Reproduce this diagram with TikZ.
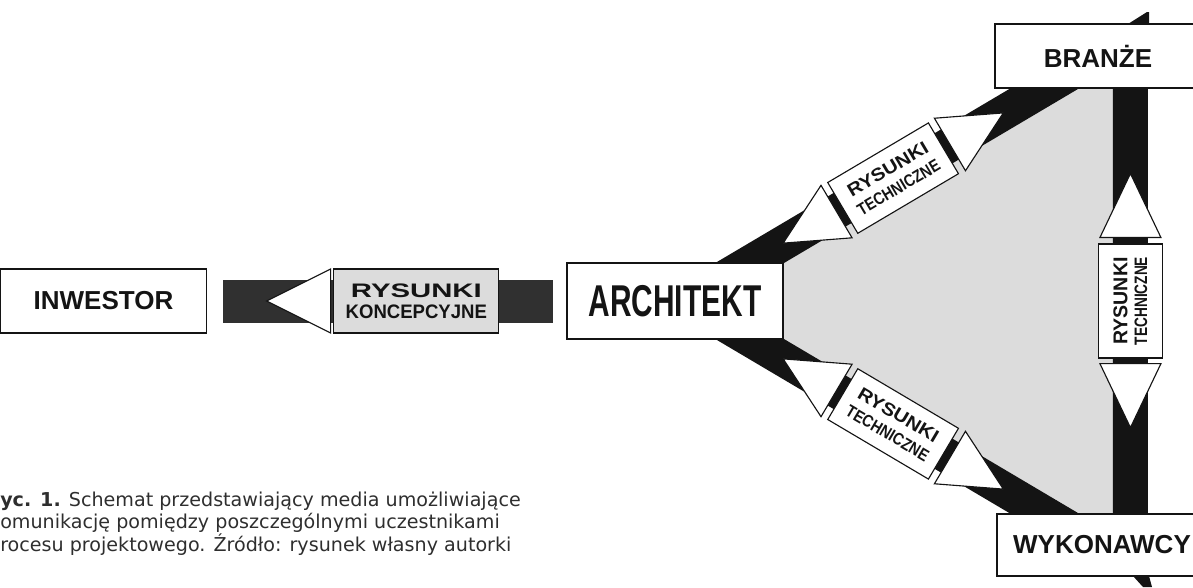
\documentclass[tikz,border=0pt]{standalone}
\usepackage{fontspec}
\setmainfont{Liberation Sans}
\newfontfamily\capfont{DejaVu Sans}
\usepackage{graphicx}
\usetikzlibrary{calc,shapes.geometric}

\definecolor{ink}{HTML}{141414}
\definecolor{bar}{HTML}{303030}
\definecolor{zone}{HTML}{DCDCDC}
\definecolor{captxt}{HTML}{2E2E2E}

\pgfdeclarelayer{bg}
\pgfsetlayers{bg,main}

\tikzset{
  party/.style={draw=ink, line width=0.8pt, fill=white, inner sep=0pt,
    minimum width=51.5mm, minimum height=16mm, text=ink,
    font=\bfseries\fontsize{18.5}{20}\selectfont},
  band/.style={ink, line width=8.75mm},
  medium/.style={draw=ink, line width=0.8pt, fill=white, text=ink, sloped,
    inner sep=0pt, align=center, minimum width=29.25mm, minimum height=14.75mm,
    font=\bfseries\fontsize{12}{15}\selectfont},
  head/.style={isosceles triangle, isosceles triangle stretches, draw=ink,
    line width=0.8pt, fill=white, inner sep=0pt, outer sep=0pt,
    minimum width=15.25mm, minimum height=15.5mm, sloped, anchor=apex},
  capline/.style={font=\capfont\fontsize{13.6}{16}\selectfont, text=captxt,
    inner sep=0pt, anchor=base west},
}

\begin{document}
\begin{tikzpicture}[x=0.25mm, y=-0.25mm]
\clip (0,0) rectangle (1193,587);

% uczestnicy
\node[party] (inw) at (103.5,301) {INWESTOR};
\node[party, minimum width=54mm, minimum height=19mm] (arch) at (675,301)
  {\scalebox{0.67}[1]{\fontsize{31.7}{32}\selectfont ARCHITEKT}};
\node[party] (branze) at (1098,56) {BRANŻE};
\node[party, minimum width=52.5mm, minimum height=15.5mm] (wyk) at (1102,545) {WYKONAWCY};

% konce pasow
\coordinate (ha) at ($(inw.east)+(16,0)$);
\coordinate (hb) at ($(arch.west)+(-13,0)$);
\coordinate (ua) at ($(arch.north east)+(-33,0)$);
\coordinate (ub) at ($(branze.south west)+(50,0)$);
\coordinate (la) at ($(arch.south east)+(-33,0)$);
\coordinate (lb) at ($(wyk.north west)+(48,0)$);
\coordinate (vt) at ($(branze.south west)+(136,0)$);
\coordinate (vb) at ($(wyk.north west)+(134,0)$);

\begin{pgfonlayer}{bg}
% szare pole
\fill[zone] (arch.north east) -- ($(ub)+(35,0)$) -- ($(vt)+(-17,0)$)
  -- ($(vb)+(-17,0)$) -- ($(lb)+(35,0)$) -- (arch.south east) -- cycle;

% inwestor
\draw[band, bar, line width=10.75mm] (ha) --
  node[medium, fill=zone, pos=0.585, minimum width=41.25mm, minimum height=16mm] (m0)
    {\scalebox{1.5}[1]{\fontsize{13.9}{15}\selectfont RYSUNKI}\\
     \scalebox{0.95}[1]{\fontsize{13.9}{15}\selectfont KONCEPCYJNE}}
  node[head, pos=0.132, shape border rotate=180, minimum width=16mm, minimum height=16mm] (h0) {}
  (hb);

% branze
\draw[band, shorten <=-8mm, shorten >=-8mm] (ua) --
  node[medium, pos=0.485] (m1)
    {\scalebox{1.13}[1]{\fontsize{12.8}{15}\selectfont RYSUNKI}\\
     \scalebox{0.85}[1]{\fontsize{12.1}{15}\selectfont TECHNICZNE}}
  node[head, pos=0.111, shape border rotate=180] (h1) {}
  node[head, pos=0.86] (h2) {}
  (ub);

% wykonawcy
\draw[band, shorten <=-8mm, shorten >=-8mm] (la) --
  node[medium, pos=0.485] (m2)
    {\scalebox{1.13}[1]{\fontsize{12.8}{15}\selectfont RYSUNKI}\\
     \scalebox{0.85}[1]{\fontsize{12.1}{15}\selectfont TECHNICZNE}}
  node[head, pos=0.111, shape border rotate=180] (h3) {}
  node[head, pos=0.86] (h4) {}
  (lb);

% branze - wykonawcy
\draw[band, shorten <=-8mm, shorten >=-8mm] (vb) --
  node[medium, pos=0.5, minimum width=28.5mm, minimum height=16mm,
       font=\bfseries\fontsize{12}{14}\selectfont] (m3)
    {\scalebox{0.98}[1]{\fontsize{14.2}{14}\selectfont RYSUNKI}\\
     \scalebox{0.76}[1]{\fontsize{12.8}{14}\selectfont TECHNICZNE}}
  node[head, pos=0.202, shape border rotate=180, minimum height=16mm] (h5) {}
  node[head, pos=0.8, minimum height=16mm] (h6) {}
  (vt);

% urwane pasy przy krawedzi
\fill[ink] (1128,24) -- (1147,12) -- (1149,12) -- (1149,24) -- cycle;
\fill[ink] (1133,576) -- (1149,576) -- (1152,587) -- (1143,587) -- cycle;
\end{pgfonlayer}

% podpis
\node[capline] (c1) at (0,506) {\textbf{yc. 1.} Schemat przedstawiający media umożliwiające};
\node[capline] (c2) at (0,528.5) {omunikację pomiędzy poszczególnymi uczestnikami};
\node[capline] (c3) at (0,551) {rocesu projektowego. Źródło: rysunek własny autorki};

\end{tikzpicture}
\end{document}
